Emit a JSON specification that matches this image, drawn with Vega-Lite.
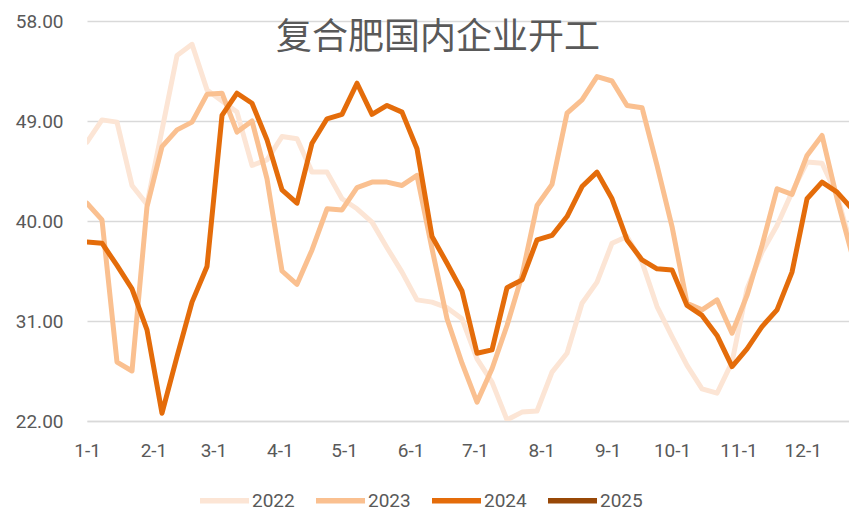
{
  "$schema": "https://vega.github.io/schema/vega-lite/v6.json",
  "width": 762,
  "height": 400,
  "autosize": {"type": "none"},
  "padding": {"left": 87, "top": 21, "right": 0, "bottom": 89},
  "background": "white",
  "title": {
    "text": "复合肥国内企业开工",
    "font": "Noto Sans CJK SC",
    "fontSize": 36,
    "fontWeight": "normal",
    "color": "#595959",
    "anchor": "middle",
    "baseline": "middle",
    "offset": -46,
    "dx": -30,
    "dy": 16
  },
  "data": {
    "values": [
      {"d": "2001-01-01", "2022": 47.1, "2023": 41.6, "2024": 38.1},
      {"d": "2001-01-08", "2022": 49.1, "2023": 40.1, "2024": 38.0},
      {"d": "2001-01-15", "2022": 48.9, "2023": 27.3, "2024": 36.0},
      {"d": "2001-01-22", "2022": 43.2, "2023": 26.5, "2024": 33.9},
      {"d": "2001-01-29", "2022": 41.5, "2023": 41.3, "2024": 30.2},
      {"d": "2001-02-05", "2022": 48.2, "2023": 46.7, "2024": 22.7},
      {"d": "2001-02-12", "2022": 54.9, "2023": 48.2, "2024": 27.8},
      {"d": "2001-02-19", "2022": 55.9, "2023": 48.9, "2024": 32.7},
      {"d": "2001-02-26", "2022": 51.8, "2023": 51.4, "2024": 35.9},
      {"d": "2001-03-05", "2022": 50.8, "2023": 51.5, "2024": 49.5},
      {"d": "2001-03-12", "2022": 49.8, "2023": 48.0, "2024": 51.5},
      {"d": "2001-03-19", "2022": 45.0, "2023": 49.0, "2024": 50.6},
      {"d": "2001-03-26", "2022": 45.5, "2023": 43.8, "2024": 47.3},
      {"d": "2001-04-02", "2022": 47.6, "2023": 35.5, "2024": 42.8},
      {"d": "2001-04-09", "2022": 47.4, "2023": 34.3, "2024": 41.6},
      {"d": "2001-04-16", "2022": 44.4, "2023": 37.4, "2024": 47.0},
      {"d": "2001-04-23", "2022": 44.4, "2023": 41.1, "2024": 49.2},
      {"d": "2001-04-30", "2022": 42.0, "2023": 41.0, "2024": 49.6},
      {"d": "2001-05-07", "2022": 41.1, "2023": 43.0, "2024": 52.4},
      {"d": "2001-05-14", "2022": 39.9, "2023": 43.5, "2024": 49.6},
      {"d": "2001-05-21", "2022": 37.6, "2023": 43.5, "2024": 50.4},
      {"d": "2001-05-28", "2022": 35.4, "2023": 43.2, "2024": 49.8},
      {"d": "2001-06-04", "2022": 32.9, "2023": 44.1, "2024": 46.5},
      {"d": "2001-06-11", "2022": 32.7, "2023": 37.5, "2024": 38.6},
      {"d": "2001-06-18", "2022": 32.2, "2023": 31.2, "2024": 36.2},
      {"d": "2001-06-25", "2022": 31.2, "2023": 27.2, "2024": 33.7},
      {"d": "2001-07-02", "2022": 27.6, "2023": 23.7, "2024": 28.1},
      {"d": "2001-07-09", "2022": 25.5, "2023": 26.7, "2024": 28.4},
      {"d": "2001-07-16", "2022": 22.1, "2023": 30.6, "2024": 34.0},
      {"d": "2001-07-23", "2022": 22.8, "2023": 35.1, "2024": 34.7},
      {"d": "2001-07-30", "2022": 22.9, "2023": 41.4, "2024": 38.3},
      {"d": "2001-08-06", "2022": 26.4, "2023": 43.3, "2024": 38.7},
      {"d": "2001-08-13", "2022": 28.1, "2023": 49.7, "2024": 40.4},
      {"d": "2001-08-20", "2022": 32.6, "2023": 50.9, "2024": 43.1},
      {"d": "2001-08-27", "2022": 34.5, "2023": 53.0, "2024": 44.4},
      {"d": "2001-09-03", "2022": 38.0, "2023": 52.6, "2024": 42.0},
      {"d": "2001-09-10", "2022": 38.6, "2023": 50.4, "2024": 38.3},
      {"d": "2001-09-17", "2022": 36.3, "2023": 50.2, "2024": 36.5},
      {"d": "2001-09-24", "2022": 32.3, "2023": 45.0, "2024": 35.7},
      {"d": "2001-10-01", "2022": 29.6, "2023": 39.5, "2024": 35.6},
      {"d": "2001-10-08", "2022": 27.0, "2023": 32.6, "2024": 32.4},
      {"d": "2001-10-15", "2022": 24.9, "2023": 32.0, "2024": 31.5},
      {"d": "2001-10-22", "2022": 24.5, "2023": 32.9, "2024": 29.7},
      {"d": "2001-10-29", "2022": 27.3, "2023": 29.9, "2024": 26.9},
      {"d": "2001-11-05", "2022": 33.9, "2023": 33.3, "2024": 28.5},
      {"d": "2001-11-12", "2022": 37.2, "2023": 37.8, "2024": 30.5},
      {"d": "2001-11-19", "2022": 39.6, "2023": 42.9, "2024": 32.0},
      {"d": "2001-11-26", "2022": 42.6, "2023": 42.4, "2024": 35.4},
      {"d": "2001-12-03", "2022": 45.3, "2023": 45.9, "2024": 42.0},
      {"d": "2001-12-10", "2022": 45.2, "2023": 47.7, "2024": 43.5},
      {"d": "2001-12-17", "2022": 42.3, "2023": 42.0, "2024": 42.6},
      {"d": "2001-12-24", "2022": 37.5, "2023": 37.0, "2024": 41.1}
    ]
  },
  "transform": [
    {"fold": ["2022", "2023", "2024"], "as": ["year", "value"]}
  ],
  "mark": {
    "type": "line",
    "strokeWidth": 5,
    "strokeCap": "round",
    "strokeJoin": "round",
    "clip": true
  },
  "encoding": {
    "x": {
      "field": "d",
      "type": "temporal",
      "scale": {"type": "utc", "domain": [978307200000, 1009029600000], "nice": false},
      "axis": {
        "title": null,
        "format": "%-m-%-d",
        "tickCount": {"interval": "month", "step": 1},
        "labelFont": "Roboto",
        "labelFontSize": 19,
        "labelColor": "#595959",
        "labelPadding": 20,
        "labelFlush": false,
        "labelOverlap": false,
        "ticks": false,
        "grid": false,
        "domain": true,
        "domainColor": "#D9D9D9",
        "domainWidth": 1.5
      }
    },
    "y": {
      "field": "value",
      "type": "quantitative",
      "scale": {"domain": [22, 58], "nice": false, "zero": false},
      "axis": {
        "title": null,
        "values": [22, 31, 40, 49, 58],
        "format": ".2f",
        "labelFont": "Roboto",
        "labelFontSize": 19,
        "labelColor": "#595959",
        "labelPadding": 24,
        "ticks": false,
        "domain": false,
        "grid": true,
        "gridColor": "#D9D9D9",
        "gridWidth": 1.5
      }
    },
    "color": {
      "field": "year",
      "type": "nominal",
      "scale": {
        "domain": ["2022", "2023", "2024", "2025"],
        "range": ["#FCE5D5", "#FAC090", "#E46C0A", "#984807"]
      },
      "legend": {
        "title": null,
        "orient": "none",
        "legendX": 110,
        "legendY": 452,
        "direction": "horizontal",
        "symbolType": "stroke",
        "symbolSize": 2401,
        "symbolStrokeWidth": 5.5,
        "labelFont": "Roboto",
        "labelFontSize": 19,
        "labelColor": "#595959",
        "labelOffset": 0,
        "columnPadding": 10,
        "padding": 0
      }
    }
  },
  "config": {"view": {"stroke": null}}
}
